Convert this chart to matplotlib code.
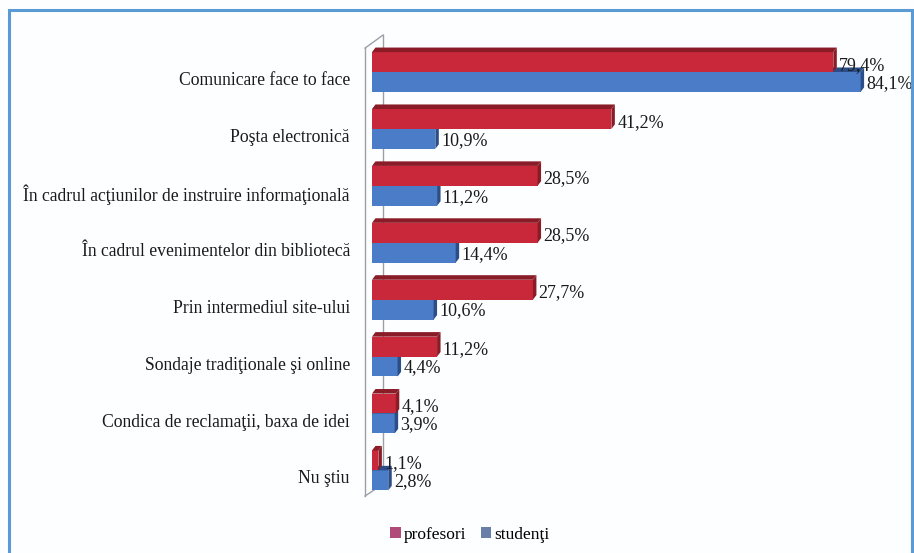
# plot.py - survey bars (profesori vs studenti), pseudo-3D horizontal bars

import numpy as np
import matplotlib.pyplot as plt
from matplotlib.patches import Polygon, Patch, Rectangle

categories = [
    "Comunicare face to face",
    "Poşta electronică",
    "În cadrul acţiunilor de instruire informaţională",
    "În cadrul evenimentelor din bibliotecă",
    "Prin intermediul site-ului",
    "Sondaje tradiţionale şi online",
    "Condica de reclamaţii, baxa de idei",
    "Nu ştiu",
]
profesori = [79.4, 41.2, 28.5, 28.5, 27.7, 11.2, 4.1, 1.1]
studenti = [84.1, 10.9, 11.2, 14.4, 10.6, 4.4, 3.9, 2.8]

red_front = "#C8283A"
red_dark = "#8A1C28"
blue_front = "#4A7CC8"
blue_dark = "#2C4E88"

W, H = 914, 553
fig = plt.figure(figsize=(W / 100, H / 100), dpi=100)
fig.patch.set_facecolor("#FDFEFF")

# outer blue frame
fig.patches.append(Rectangle((9 / W, -0.01), (912 - 9) / W, 1 - 10 / H + 0.01,
                             transform=fig.transFigure, fill=False,
                             edgecolor="#5B9BD5", linewidth=2.2))

# axes placed so x=0 sits at 372px, 5.81 px per percent
ax = fig.add_axes([372 / W, 1 - 500 / H, 581 / W, 480 / H])
ax.set_xlim(0, 100)
ax.set_ylim(7.52, -0.914)
ax.axis("off")

h = 0.35
dx = 0.6
dy = 0.08
font = "Liberation Serif"
txt_color = "#1A1A1A"


def bar3d(v, y0, front, dark):
    y1 = y0 + h
    ax.add_patch(Rectangle((0, y0), v, h, facecolor=front, edgecolor="none", zorder=3))
    top = [(0, y0), (dx, y0 - dy), (v + dx, y0 - dy), (v, y0)]
    side = [(v, y0), (v + dx, y0 - dy), (v + dx, y1 - dy), (v, y1)]
    ax.add_patch(Polygon(top, closed=True, facecolor=dark, edgecolor="none", zorder=3))
    ax.add_patch(Polygon(side, closed=True, facecolor=dark, edgecolor="none", zorder=3))


# back wall of the 3D frame
wall_x0, wall_x1 = -1.2, 1.9
ax.plot([wall_x0, wall_x0], [-0.42, 7.45], color="#9AA0A8", lw=1, clip_on=False, zorder=1)
ax.plot([wall_x1, wall_x1], [-0.65, 7.24], color="#9AA0A8", lw=1, clip_on=False, zorder=1)
ax.plot([wall_x0, wall_x1], [-0.42, -0.65], color="#9AA0A8", lw=1, clip_on=False, zorder=1)
ax.plot([wall_x0, wall_x1], [7.45, 7.24], color="#9AA0A8", lw=1, clip_on=False, zorder=1)

for i, cat in enumerate(categories):
    p = profesori[i]
    s = studenti[i]
    bar3d(s, i, blue_front, blue_dark)
    bar3d(p, i - h, red_front, red_dark)
    ax.text(p + dx + 0.4, i - 0.12, "{0:.1f}%".format(p).replace(".", ","),
            ha="left", va="center", fontsize=13, family=font, color=txt_color, zorder=4)
    ax.text(s + dx + 0.4, i + 0.2, "{0:.1f}%".format(s).replace(".", ","),
            ha="left", va="center", fontsize=13, family=font, color=txt_color, zorder=4)
    ax.text(-3.8, i + 0.15, cat, ha="right", va="center", fontsize=12.7,
            family=font, color=txt_color)

handles = [Patch(facecolor="#B04A78", label="profesori"),
           Patch(facecolor="#6A7FA8", label="studenţi")]
fig.legend(handles=handles, loc="center", bbox_to_anchor=(470 / W, 1 - 535 / H),
           ncol=2, frameon=False, handlelength=0.6, handleheight=0.6,
           handletextpad=0.2, columnspacing=0.8, prop={"family": font, "size": 12.5})

fig.savefig("out.png", dpi=100, facecolor=fig.get_facecolor())
